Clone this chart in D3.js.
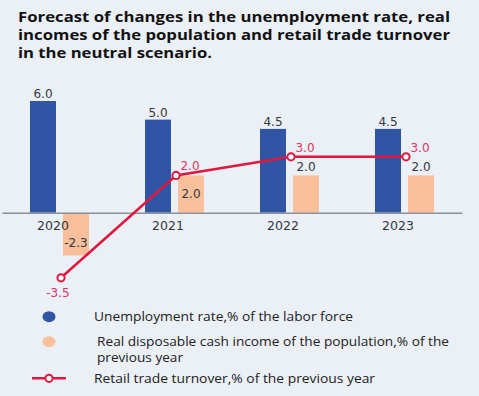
<!DOCTYPE html>
<html>
<head>
<meta charset="utf-8">
<script src="https://cdn.jsdelivr.net/npm/d3@7"></script>
<style>
  html, body { margin: 0; padding: 0; background: #ebeff6; }
  svg { display: block; }
</style>
</head>
<body>
<div id="chart"></div>
<script>
// chart data
const years = ['2020', '2021', '2022', '2023'];
const unemployment = [6.0, 5.0, 4.5, 4.5];
const realIncome = [-2.3, 2.0, 2.0, 2.0];
const retailTurnover = [-3.5, 2.0, 3.0, 3.0];
const titleLines = [
  'Forecast of changes in the unemployment rate, real',
  'incomes of the population and retail trade turnover',
  'in the neutral scenario.'
];
const legendLabels = [
  ['Unemployment rate,% of the labor force'],
  ['Real disposable cash income of the population,% of the', 'previous year'],
  ['Retail trade turnover,% of the previous year']
];

const width = 479;
const height = 396;
const blue = '#2f55a4';
const peach = '#fabf9b';
const red = '#e0173f';
const redText = '#e0355e';
const textColor = '#333740';

const svg = d3.select('#chart')
  .append('svg')
  .attr('width', width)
  .attr('height', height);

svg.append('rect')
  .attr('width', width)
  .attr('height', height)
  .attr('fill', '#ebeff6');

// title (the source text is set wide, so stretch each line to its measured width)
const titleWidths = [432, 432, 194];
svg.append('g')
  .style('font-family', 'Open Sans')
  .style('font-weight', 'bold')
  .style('font-size', '13.5px')
  .attr('fill', '#111')
  .selectAll('text')
  .data(titleLines)
  .enter()
  .append('text')
  .attr('x', 18)
  .attr('y', (d, i) => 22 + i * 18)
  .attr('textLength', (d, i) => titleWidths[i])
  .attr('lengthAdjust', 'spacingAndGlyphs')
  .text(d => d);

// scales
const x = d3.scaleBand().domain(years).range([2, 462]);
const y = d3.scaleLinear().domain([-3.5, 6]).range([277.8, 101]);

const barW = 26;
const gap = 3.5;
const center = d => x(d) + x.bandwidth() / 2;

// unemployment bars
svg.append('g')
  .selectAll('rect')
  .data(unemployment)
  .enter()
  .append('rect')
  .attr('x', (d, i) => center(years[i]) - gap - barW)
  .attr('y', d => y(Math.max(0, d)))
  .attr('width', barW)
  .attr('height', d => Math.abs(y(d) - y(0)))
  .attr('fill', blue);

svg.append('g')
  .selectAll('text')
  .data(unemployment)
  .enter()
  .append('text')
  .attr('x', (d, i) => center(years[i]) - gap - barW / 2)
  .attr('y', d => y(d) - 3)
  .attr('text-anchor', 'middle')
  .style('font-family', 'DejaVu Sans')
  .style('font-size', '12px')
  .attr('fill', textColor)
  .text(d => d.toFixed(1));

// real income bars
svg.append('g')
  .selectAll('rect')
  .data(realIncome)
  .enter()
  .append('rect')
  .attr('x', (d, i) => center(years[i]) + gap)
  .attr('y', d => y(Math.max(0, d)))
  .attr('width', barW)
  .attr('height', d => Math.abs(y(d) - y(0)))
  .attr('fill', peach);

// label placement: inside end for negative, inside middle where the line label is close, outside otherwise
const incomeLabelY = (d, i) => {
  if (d < 0) return y(d) - 8;
  if (i === 1) return (y(d) + y(0)) / 2 + 4;
  return y(d) - 4;
};
svg.append('g')
  .selectAll('text')
  .data(realIncome)
  .enter()
  .append('text')
  .attr('x', (d, i) => center(years[i]) + gap + barW / 2)
  .attr('y', incomeLabelY)
  .attr('text-anchor', 'middle')
  .style('font-family', 'DejaVu Sans')
  .style('font-size', '12px')
  .attr('fill', textColor)
  .text(d => d.toFixed(1));

// x axis, drawn over the bars
const xAxis = d3.axisBottom(x).tickSize(0).tickPadding(0);
const axisG = svg.append('g')
  .attr('transform', 'translate(0,' + y(0) + ')')
  .call(xAxis);
axisG.select('.domain')
  .attr('stroke', '#8b909a')
  .attr('stroke-width', 1.5);
axisG.selectAll('.tick text')
  .attr('dx', -6.5)
  .attr('dy', 0)
  .attr('y', 17)
  .style('font-family', 'DejaVu Sans')
  .style('font-size', '12.5px')
  .attr('fill', textColor);

// retail turnover line
const line = d3.line()
  .x((d, i) => center(years[i]) + 1.5)
  .y(d => y(d));

svg.append('path')
  .attr('d', line(retailTurnover))
  .attr('fill', 'none')
  .attr('stroke', red)
  .attr('stroke-width', 2.5);

svg.append('g')
  .selectAll('circle')
  .data(retailTurnover)
  .enter()
  .append('circle')
  .attr('cx', (d, i) => center(years[i]) + 1.5)
  .attr('cy', d => y(d))
  .attr('r', 3.6)
  .attr('fill', '#fff')
  .attr('stroke', red)
  .attr('stroke-width', 2);

svg.append('g')
  .selectAll('text')
  .data(retailTurnover)
  .enter()
  .append('text')
  .attr('x', (d, i) => center(years[i]) + 1.5 + (d < 0 ? -3 : 14))
  .attr('y', d => d < 0 ? y(d) + 19 : y(d) - 5)
  .attr('text-anchor', 'middle')
  .style('font-family', 'DejaVu Sans')
  .style('font-size', '12px')
  .attr('fill', redText)
  .text(d => d.toFixed(1));

// legend
const legend = svg.append('g')
  .style('font-family', 'Open Sans')
  .style('font-size', '12.5px')
  .attr('fill', '#222');

legend.append('ellipse')
  .attr('cx', 49).attr('cy', 316.7)
  .attr('rx', 6.5).attr('ry', 5.5)
  .attr('fill', blue);
legend.append('ellipse')
  .attr('cx', 49).attr('cy', 341.7)
  .attr('rx', 6.5).attr('ry', 5.5)
  .attr('fill', peach);
legend.append('line')
  .attr('x1', 32).attr('x2', 66)
  .attr('y1', 378.3).attr('y2', 378.3)
  .attr('stroke', red)
  .attr('stroke-width', 2.5);
legend.append('circle')
  .attr('cx', 49).attr('cy', 378.3)
  .attr('r', 3.6)
  .attr('fill', '#fff')
  .attr('stroke', red)
  .attr('stroke-width', 2);

const legendPos = [[94, 321], [97, 346], [94, 383]];
const legendWidths = [[259], [352, 86], [281]];
legendLabels.forEach((lines, k) => {
  legend.append('g')
    .selectAll('text')
    .data(lines)
    .enter()
    .append('text')
    .attr('x', legendPos[k][0])
    .attr('y', (d, i) => legendPos[k][1] + i * 16)
    .attr('textLength', (d, i) => legendWidths[k][i])
    .attr('lengthAdjust', 'spacingAndGlyphs')
    .text(d => d);
});
</script>
</body>
</html>
